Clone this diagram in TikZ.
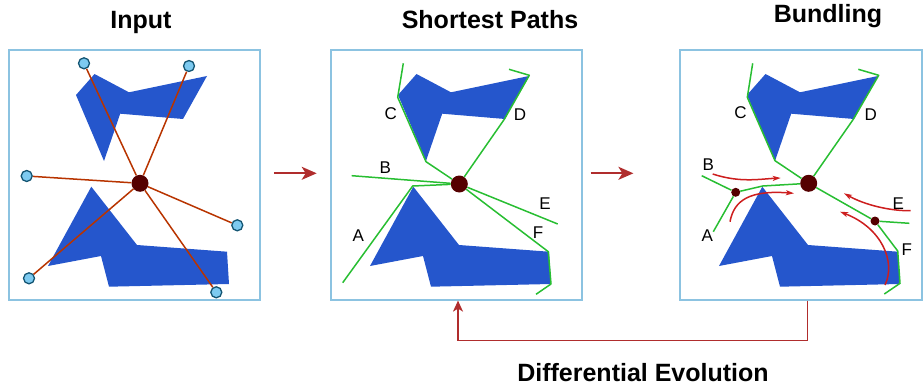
\documentclass[tikz,border=0pt]{standalone}
\usepackage{fontspec}
\setmainfont{Liberation Sans}
\usepackage{tikz}
\usetikzlibrary{arrows.meta,positioning,calc}
\definecolor{obstblue}{RGB}{37,86,204}
\definecolor{routegreen}{RGB}{40,190,50}
\definecolor{spokeorange}{RGB}{184,52,0}
\definecolor{hubred}{RGB}{85,0,0}
\definecolor{termblue}{RGB}{125,202,240}
\definecolor{termedge}{RGB}{20,85,115}
\definecolor{panelblue}{RGB}{140,195,225}
\definecolor{arrowred}{RGB}{176,45,45}
\definecolor{curvered}{RGB}{205,30,30}

\begin{document}
\begin{tikzpicture}[x=1pt,y=-1pt,
panel/.style={draw=panelblue,line width=1.2pt,minimum height=250pt,inner sep=0pt},
title/.style={anchor=base,inner sep=0pt,font=\fontsize{25}{30}\selectfont\bfseries},
lbl/.style={inner sep=0pt,font=\fontsize{17}{20}\selectfont},
obst/.style={fill=obstblue},
terminal/.style={circle,draw=termedge,fill=termblue,line width=1.3pt,minimum size=11pt,inner sep=0pt},
hub/.style={circle,fill=hubred,minimum size=17pt,inner sep=0pt},
joint/.style={circle,fill=hubred,minimum size=9pt,inner sep=0pt},
spoke/.style={draw=spokeorange,line width=1.5pt},
route/.style={draw=routegreen,line width=1.5pt,line join=round},
drift/.style={draw=curvered,line width=1.5pt,-{Stealth[length=8pt,width=5pt,inset=2pt]}},
flow/.style={draw=arrowred,line width=2pt,-{Stealth[length=15pt,width=13pt,inset=4pt]}},
feedback/.style={draw=arrowred,line width=1.5pt,-{Stealth[length=11pt,width=10pt,inset=3pt]}}]
\useasboundingbox (0,0) rectangle (923,385);
\node[panel,minimum width=251pt](input) at (134.5,175) {};
\node[panel,minimum width=251pt](paths) at (456.5,175) {};
\node[panel,minimum width=242pt](bundle) at (801,175) {};
\node[title](tin) at (141,29) {Input};
\node[title](tsp) at (490,28.3) {Shortest Paths};
\node[title](tbu) at (828,22.7) {Bundling};
\node[title](tde) at (643,381) {Differential Evolution};
\foreach \px in {9,331,680}{
  \fill[obst,shift={(\px,50)}] (67,45) -- (85.5,24) -- (120,42.3) -- (198,26) -- (174,69) -- (111.2,63.7) -- (95,111) -- cycle;
  \fill[obst,shift={(\px,50)}] (82.3,136.7) -- (128,195) -- (218,201.7) -- (220,234) -- (100,236.7) -- (92,206) -- (39,216) -- cycle;
}
% input
\node[hub](h1) at (140,183.3) {};
\node[terminal](t1) at (84,63.3) {};
\node[terminal](t2) at (189,66) {};
\node[terminal](t3) at (26.7,176) {};
\node[terminal](t4) at (237.3,225.3) {};
\node[terminal](t5) at (29,278.3) {};
\node[terminal](t6) at (216.3,292.3) {};
\foreach \i in {1,...,6} \draw[spoke] (h1) -- (t\i);
% shortest paths
\node[hub](h2) at (459.3,184) {};
\coordinate (pA) at (342.7,282.7);
\coordinate (pB) at (351.7,175.7);
\coordinate (pC) at (403.3,63.3);
\coordinate (pD) at (509,69.3);
\coordinate (pE) at (557.7,224);
\coordinate (pF) at (536,294.3);
\draw[route] (pC) -- (397.7,97.3) -- (426,161.7) -- (h2);
\draw[route] (pD) -- (529.3,75.3) -- (504.3,119.3) -- (h2);
\draw[route] (pB) -- (h2);
\draw[route] (pA) -- (412.7,186) -- (h2);
\draw[route] (pE) -- (h2);
\draw[route] (pF) -- (551,284) -- (548.3,251.7) -- (h2);
\node[lbl](lA2) at (358.3,236) {A};
\node[lbl](lB2) at (385.3,167.3) {B};
\node[lbl](lC2) at (390.8,113.3) {C};
\node[lbl](lD2) at (520,115) {D};
\node[lbl](lE2) at (545,203.3) {E};
\node[lbl](lF2) at (538,232.7) {F};
% bundling
\node[hub](h3) at (808.7,183.3) {};
\node[joint](j1) at (735.7,192.3) {};
\node[joint](j2) at (875,221) {};
\coordinate (qA) at (713.3,231.7);
\coordinate (qB) at (701.7,175.7);
\coordinate (qC) at (752.7,63.3);
\coordinate (qD) at (858.3,69.3);
\coordinate (qE) at (909.3,223.3);
\coordinate (qF) at (884.3,294);
\draw[route] (qC) -- (747.3,97.3) -- (775,160.7) -- (h3);
\draw[route] (qD) -- (878.7,75.3) -- (853.3,119.3) -- (h3);
\draw[route] (qB) -- (j1);
\draw[route] (qA) -- (j1);
\draw[route] (j1) -- (762.7,186) -- (h3);
\draw[route] (qE) -- (j2);
\draw[route] (qF) -- (900,283.3) -- (897.7,251) -- (j2);
\draw[route] (j2) -- (h3);
\draw[drift] (712.7,174) .. controls (740,183) and (760,179) .. (780.7,178);
\draw[drift] (730,221.7) .. controls (734,200) and (750,190) .. (794,193.3);
\draw[drift] (910.7,210.7) .. controls (890,211) and (865,205) .. (844,193.3);
\draw[drift] (885,285) .. controls (896,262) and (882,228) .. (840,211.7);
\node[lbl](lA3) at (707.3,236) {A};
\node[lbl](lB3) at (708.3,165) {B};
\node[lbl](lC3) at (740.5,112.7) {C};
\node[lbl](lD3) at (870.8,115) {D};
\node[lbl](lE3) at (898.3,203.3) {E};
\node[lbl](lF3) at (906.7,250) {F};
\draw[flow] ([xshift=13.3pt,yshift=1.7pt]input.east) -- ([xshift=-13.7pt,yshift=1.7pt]paths.west);
\draw[flow] ([xshift=8pt,yshift=1.7pt]paths.east) -- ([xshift=-46pt,yshift=1.7pt]bundle.west);
\draw[feedback] ([xshift=6.7pt]bundle.south) -- ++(0,40) -| ([xshift=1.5pt]paths.south);
\end{tikzpicture}
\end{document}
